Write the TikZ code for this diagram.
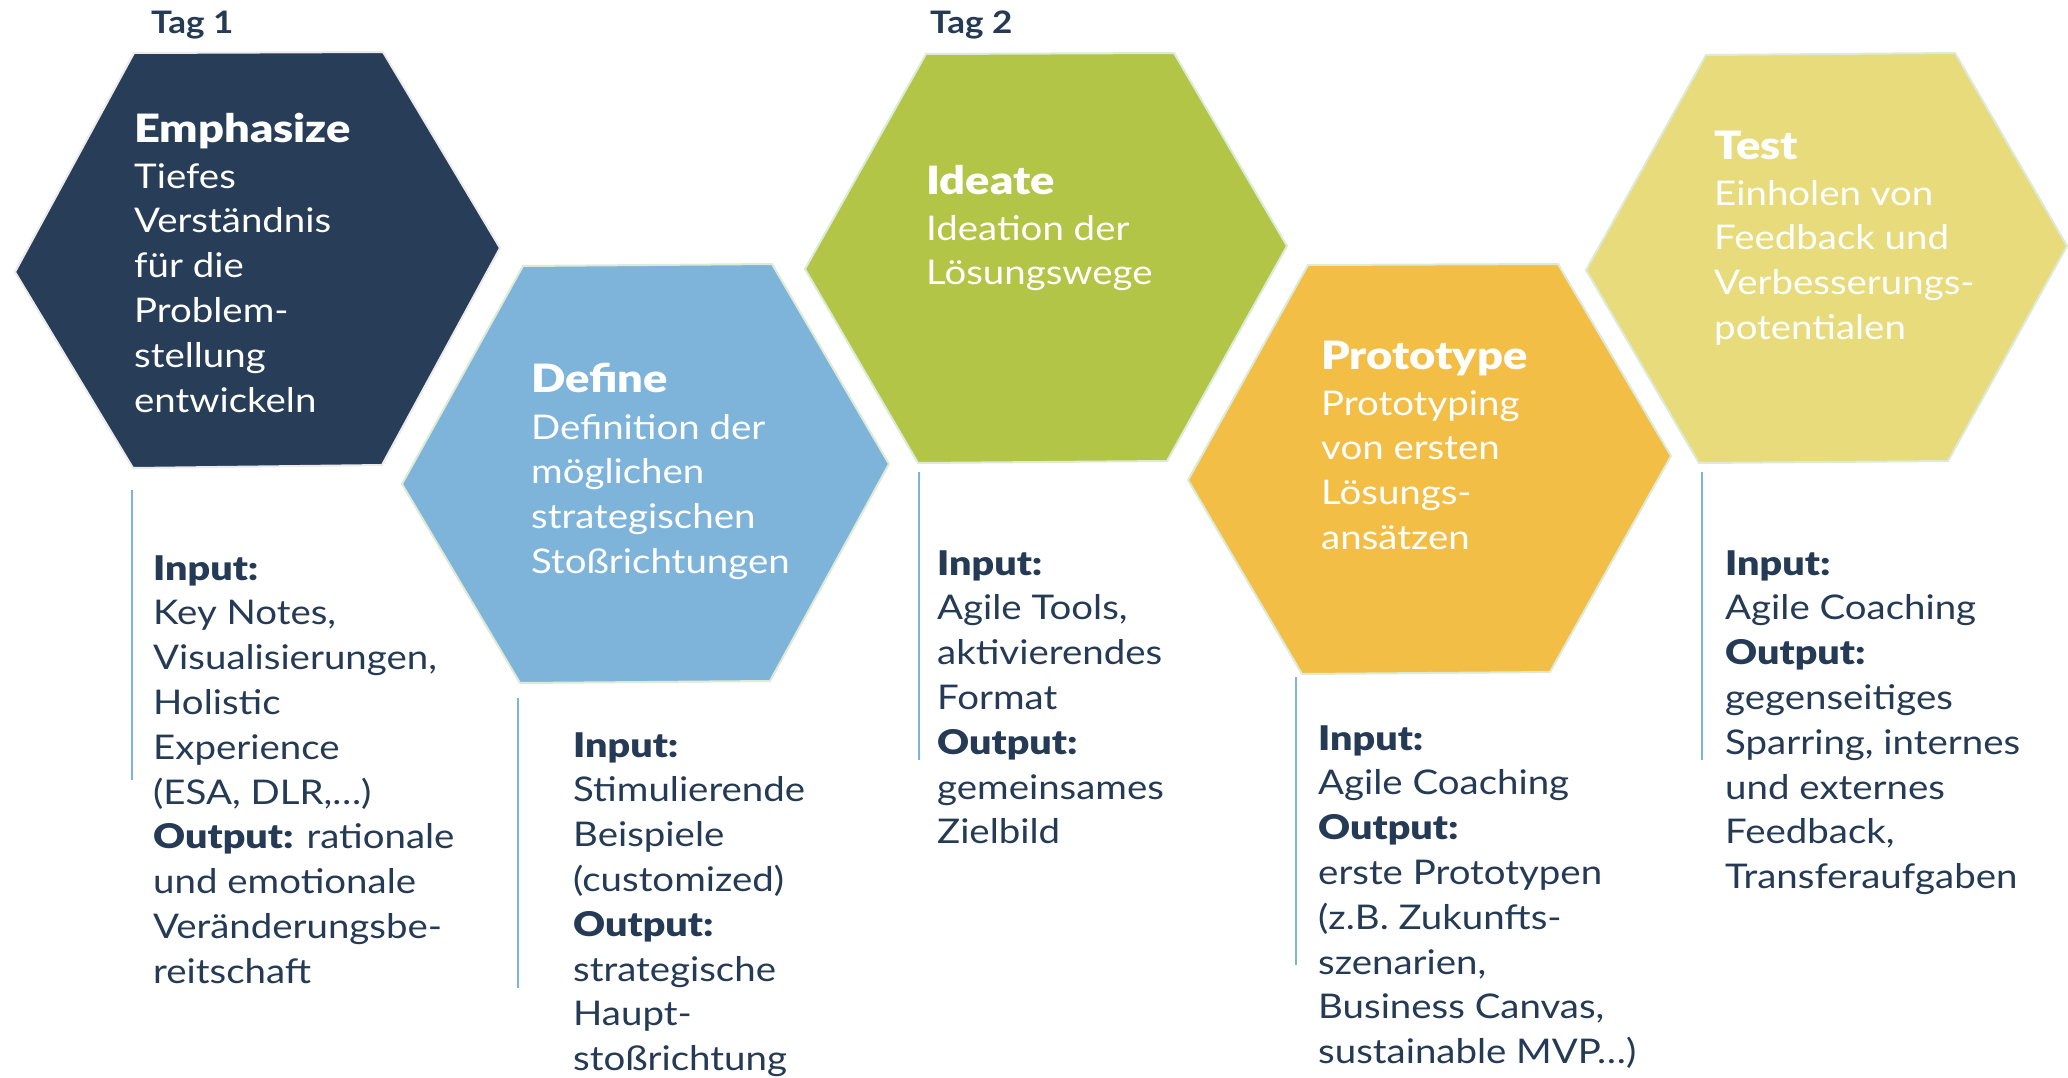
\documentclass[tikz,border=0pt]{standalone}
\usepackage{fontspec}
\setmainfont{Lato}[FakeStretch=1.13]
\newfontfamily\heavyfont{Lato Black}[FakeStretch=1.16]
\definecolor{navy}{HTML}{283D57}
\definecolor{txtnavy}{HTML}{243A55}
\definecolor{skyblue}{HTML}{7EB4DA}
\definecolor{limegreen}{HTML}{B2C546}
\definecolor{sunyellow}{HTML}{F3BE46}
\definecolor{paleyellow}{HTML}{E8DB7B}
\definecolor{hexline}{HTML}{DDEBD6}
\definecolor{hexgrey}{HTML}{EBEBEB}
\newcommand\bodysize{\fontsize{34}{44.8}\selectfont}
\newcommand\headsize{\fontsize{39}{46}\selectfont}
\tikzset{
  hexshape/.style={line width=2pt, line join=miter},
  headtext/.style={anchor=base west, inner sep=0pt, text=white, font=\headsize\heavyfont},
  hextext/.style={anchor=base west, inner sep=0pt, text=white, font=\bodysize},
  blocktext/.style={anchor=base west, inner sep=0pt, text=txtnavy, font=\bodysize},
  daytext/.style={anchor=base west, inner sep=0pt, text=txtnavy, font=\fontsize{31}{34}\selectfont\bfseries},
  sideline/.style={draw=skyblue, line width=1.6pt},
}
\newcommand\lines[1]{\begin{tabular}[t]{@{}l@{}}#1\end{tabular}}
\begin{document}
\begin{tikzpicture}[x=1pt,y=-1pt]
\useasboundingbox (0,0) rectangle (2068,1077);
\fill[white] (0,0) rectangle (2068,1077);

% hexagons
\draw[hexshape, draw=hexgrey, fill=navy] (134,53) -- (383,52) -- (500,248) -- (382,465) -- (133,468) -- (15,272) -- cycle;
\draw[hexshape, draw=hexline, fill=skyblue] (523,266) -- (772,264) -- (889,464) -- (770,681) -- (520,683) -- (402,484) -- cycle;
\draw[hexshape, draw=hexline, fill=limegreen] (926,54) -- (1174,53) -- (1287,246) -- (1167,461) -- (918,463) -- (805,269) -- cycle;
\draw[hexshape, draw=hexline, fill=sunyellow] (1308,265) -- (1558,264) -- (1671,456) -- (1550,672) -- (1302,674) -- (1188,480) -- cycle;
\draw[hexshape, draw=hexline, fill=paleyellow] (1706,55) -- (1955,53) -- (2067,246) -- (1948,461) -- (1699,463) -- (1586,270) -- cycle;

% day labels
\node[daytext] (tag1) at (151,33) {Tag 1};
\node[daytext] (tag2) at (930,33) {Tag 2};

% hexagon texts
\node[headtext] (emph) at (134,142) {Emphasize};
\node[hextext] (emphb) at (134,188) {\lines{Tiefes\\Verständnis\\für die\\Problem-\\stellung\\entwickeln}};
\node[headtext] (def) at (531,392) {Define};
\node[hextext] (defb) at (531,439) {\lines{Definition der\\möglichen\\strategischen\\Stoßrichtungen}};
\node[headtext] (ide) at (926,194) {Ideate};
\node[hextext] (ideb) at (926,240) {\lines{Ideation der\\Lösungswege}};
\node[headtext] (pro) at (1321,369) {Prototype};
\node[hextext] (prob) at (1321,415) {\lines{Prototyping\\von ersten\\Lösungs-\\ansätzen}};
\node[headtext] (tst) at (1714,159) {Test};
\node[hextext] (tstb) at (1714,205) {\lines{Einholen von\\Feedback und\\Verbesserungs-\\potentialen}};

% side lines
\draw[sideline] (132,490) -- (132,780);
\draw[sideline] (518,698) -- (518,988);
\draw[sideline] (919,472) -- (919,760);
\draw[sideline] (1296,677) -- (1296,965);
\draw[sideline] (1702,472) -- (1702,760);

% input / output blocks
\node[blocktext] (emphio) at (153,580) {\lines{{\heavyfont Input:}\\Key Notes,\\Visualisierungen,\\Holistic\\Experience\\(ESA, DLR,…)\\{\heavyfont Output:} rationale\\und emotionale\\Veränderungsbe-\\reitschaft}};
\node[blocktext] (defio) at (573,757) {\lines{{\heavyfont Input:}\\Stimulierende\\Beispiele\\(customized)\\{\heavyfont Output:}\\strategische\\Haupt-\\stoßrichtung}};
\node[blocktext] (ideio) at (937,575) {\lines{{\heavyfont Input:}\\Agile Tools,\\aktivierendes\\Format\\{\heavyfont Output:}\\gemeinsames\\Zielbild}};
\node[blocktext] (proio) at (1318,750) {\lines{{\heavyfont Input:}\\Agile Coaching\\{\heavyfont Output:}\\erste Prototypen\\(z.B. Zukunfts-\\szenarien,\\Business Canvas,\\sustainable MVP…)}};
\node[blocktext] (tstio) at (1725,575) {\lines{{\heavyfont Input:}\\Agile Coaching\\{\heavyfont Output:}\\gegenseitiges\\Sparring, internes\\und externes\\Feedback,\\Transferaufgaben}};
\end{tikzpicture}
\end{document}
